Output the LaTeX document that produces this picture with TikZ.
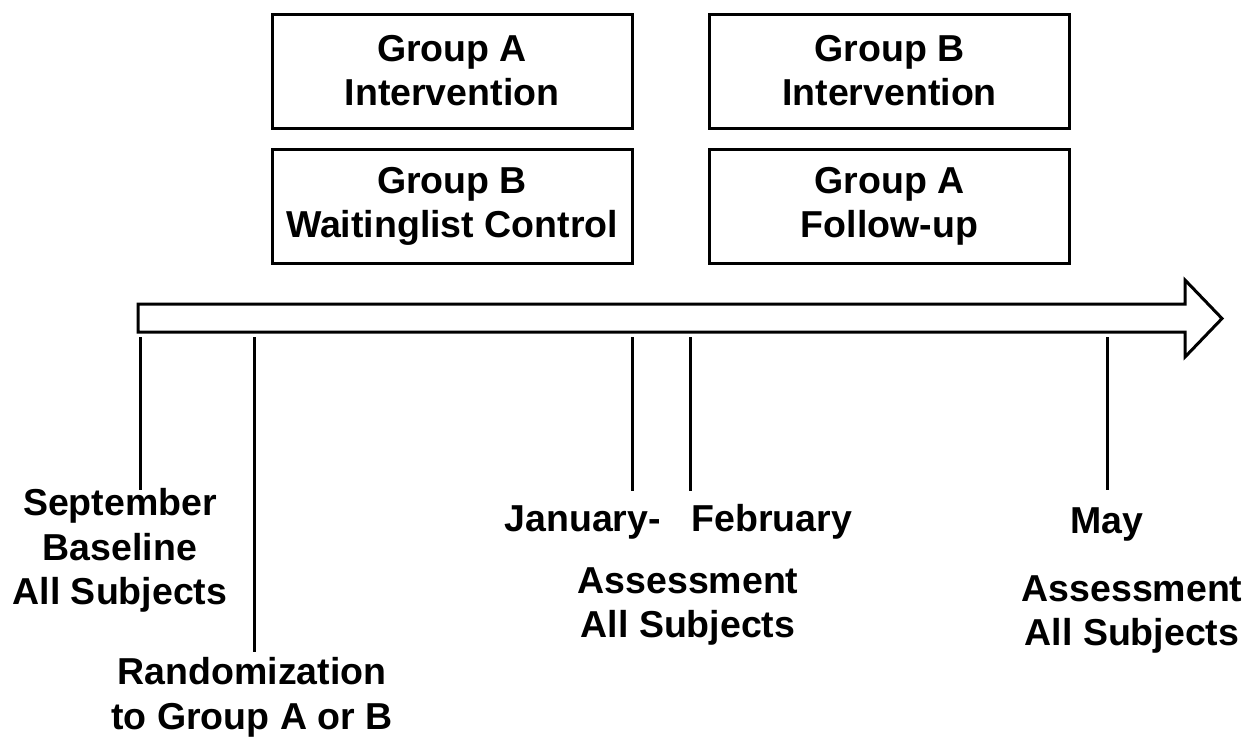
\documentclass[tikz,border=0pt]{standalone}
\usepackage{fontspec}
\setmainfont{Liberation Sans}
\begin{document}
\begin{tikzpicture}[x=1pt,y=-1pt,
  line width=3pt,
  lbl/.style={font=\fontsize{37.5}{44.5}\selectfont\bfseries, align=center, inner sep=0pt},
  grpbox/.style={draw, line width=3pt, minimum width=360pt, minimum height=114pt,
                 font=\fontsize{37.5}{44}\selectfont\bfseries, align=center, inner sep=0pt},
  tick/.style={line width=3pt}
]
\useasboundingbox (0,0) rectangle (1249,739);
% boxes
\node[grpbox] (ga) at (452,71) {Group A\\Intervention};
\node[grpbox] (gb) at (452,206) {Group B\\Waitinglist Control};
\node[grpbox] (gbi) at (889.5,71) {Group B\\Intervention};
\node[grpbox] (gaf) at (889.5,206) {Group A\\Follow-up};
% timeline arrow
\draw[line width=3pt, line join=miter] (138,304) -- (1185,304) -- (1185,280) -- (1222,318.5)
  -- (1185,357) -- (1185,332) -- (138,332) -- cycle;
% tick coordinates
\coordinate (t1a) at (140,337); \coordinate (t1b) at (140,490);
\coordinate (t2a) at (254,337); \coordinate (t2b) at (254,652);
\coordinate (t3a) at (632,337); \coordinate (t3b) at (632,491);
\coordinate (t4a) at (690,337); \coordinate (t4b) at (690,491);
\coordinate (t5a) at (1107,337); \coordinate (t5b) at (1107,490);
\draw[tick] (t1a) -- (t1b);
\draw[tick] (t2a) -- (t2b);
\draw[tick] (t3a) -- (t3b);
\draw[tick] (t4a) -- (t4b);
\draw[tick] (t5a) -- (t5b);
% labels
\node[lbl, anchor=north] (sep) at (120,487) {September\\Baseline\\All Subjects};
\node[lbl, anchor=north] (rand) at (252,656) {Randomization\\to Group A or B};
\node[lbl, anchor=base west] (jan) at (503,531) {January-};
\node[lbl, anchor=base west] (feb) at (690,531) {February};
\node[lbl, anchor=north] (ass1) at (688,566) {Assessment\\All Subjects};
\node[lbl, anchor=base] (may) at (1107,533) {May};
\node[lbl, anchor=north] (ass2) at (1132,574) {Assessment\\All Subjects};
\end{tikzpicture}
\end{document}
